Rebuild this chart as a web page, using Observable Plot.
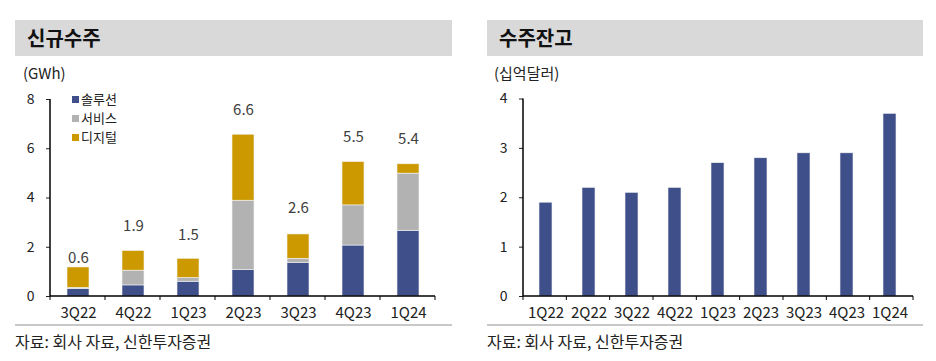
<!DOCTYPE html>
<html><head><meta charset="utf-8">
<script src="https://cdn.jsdelivr.net/npm/d3@7"></script>
<script src="https://cdn.jsdelivr.net/npm/@observablehq/plot@0.6"></script>
<style>
body{margin:0;background:#fff;font-family:"Noto Sans CJK KR","Noto Sans",sans-serif;}
#wrap{position:relative;width:936px;height:361px;overflow:hidden;background:#fff;}
.tbar{position:absolute;top:20px;height:36px;background:#d9d9d9;}
.ttl{position:absolute;top:26px;font-size:20px;font-weight:600;color:#111;line-height:24px;}
.unit{position:absolute;top:63px;font-size:15px;color:#222;line-height:20px;}
.rule{position:absolute;top:324px;height:2px;background:#c8c8c8;}
.src{position:absolute;top:331px;font-size:16px;color:#222;line-height:21px;}
.plotbox{position:absolute;top:80px;}
.legend{position:absolute;left:72px;top:89px;font-size:13px;color:#222;line-height:19px;}
.legend span.sw{display:inline-block;width:7px;height:7px;margin-right:2px;vertical-align:1px;}
</style>
</head><body>
<div id="wrap">
  <div class="tbar" style="left:15px;width:437px"></div>
  <div class="ttl" style="left:27px">신규수주</div>
  <div class="unit" style="left:23px">(GWh)</div>
  <div class="plotbox" id="leftChart" style="left:0px"></div>
  <div class="legend" id="legend"></div>
  <div class="rule" style="left:15px;width:437px"></div>
  <div class="src" style="left:15px">자료: 회사 자료, 신한투자증권</div>

  <div class="tbar" style="left:487px;width:436px"></div>
  <div class="ttl" style="left:499px">수주잔고</div>
  <div class="unit" style="left:494px">(십억달러)</div>
  <div class="plotbox" id="rightChart" style="left:466px"></div>
  <div class="rule" style="left:487px;width:436px"></div>
  <div class="src" style="left:487px">자료: 회사 자료, 신한투자증권</div>
</div>
<script>
// ---- Left chart data (신규수주, GWh) ----
const quartersL = ["3Q22","4Q22","1Q23","2Q23","3Q23","4Q23","1Q24"];
const seriesNames = ["솔루션","서비스","디지털"];
const solution = [0.30, 0.45, 0.60, 1.07, 1.37, 2.07, 2.67];
const service  = [0.05, 0.60, 0.15, 2.82, 0.16, 1.63, 2.32];
const digital  = [0.83, 0.80, 0.78, 2.68, 0.99, 1.76, 0.38];
const totalLabels = [0.6, 1.9, 1.5, 6.6, 2.6, 5.5, 5.4];
const ticksL = [0, 2, 4, 6, 8];
const seriesColors = ["#3f4f8a", "#b2b2b2", "#cc9900"];

// ---- Right chart data (수주잔고, 십억달러) ----
const quartersR = ["1Q22","2Q22","3Q22","4Q22","1Q23","2Q23","3Q23","4Q23","1Q24"];
const backlog = [1.9, 2.2, 2.1, 2.2, 2.7, 2.8, 2.9, 2.9, 3.7];
const ticksR = [0, 1, 2, 3, 4];

const FONT = '"Noto Sans CJK KR","Noto Sans",sans-serif';
const fmt1 = d3.format(".1f");

function decorate(chart, n) {
  const xs = chart.scale("x");
  const ys = chart.scale("y");
  const [x0, x1] = xs.range;
  const [yb, yt] = ys.range;
  const step = (x1 - x0) / n;
  const svg = d3.select(chart);
  const g = svg.append("g").attr("stroke", "#000");
  g.append("line").attr("x1", x0).attr("x2", x0).attr("y1", yb).attr("y2", yt).attr("stroke-width", 1.5);
  g.append("line").attr("x1", x0).attr("x2", x1).attr("y1", yb).attr("y2", yb).attr("stroke-width", 1.5);
  for (let i = 0; i <= n; i++) {
    const xx = x0 + i * step;
    g.append("line").attr("x1", xx).attr("x2", xx).attr("y1", yb).attr("y2", yb + 4).attr("stroke-width", 1);
  }
}

// Left chart
const rowsL = quartersL.flatMap((q, i) => [
  {q, s: seriesNames[0], v: solution[i]},
  {q, s: seriesNames[1], v: service[i]},
  {q, s: seriesNames[2], v: digital[i]}
]);
const labelRows = quartersL.map((q, i) => ({q, v: totalLabels[i]}));

const left = Plot.plot({
  width: 470, height: 250,
  marginLeft: 50, marginRight: 35, marginTop: 19, marginBottom: 34,
  style: {fontFamily: FONT, fontSize: "14px", color: "#222", background: "transparent", overflow: "visible"},
  x: {domain: quartersL, paddingInner: 0.6, paddingOuter: 0.3, label: null},
  y: {domain: [0, 8], label: null},
  color: {domain: seriesNames, range: seriesColors},
  marks: [
    Plot.barY(rowsL, {x: "q", y: "v", fill: "s", stroke: "#f4f4f4", strokeWidth: 0.6}),
    Plot.text(labelRows, {x: "q", y: "v", text: d => fmt1(d.v), dy: -24, fontSize: 15, fill: "#404040"}),
    Plot.axisY({ticks: ticksL, tickSize: 4, tickPadding: 12, label: null, tickFormat: d => String(d), fontSize: 14}),
    Plot.axisX({tickSize: 0, tickPadding: 11, label: null, fontSize: 15})
  ]
});
document.getElementById("leftChart").append(left);
decorate(left, quartersL.length);

// Legend (HTML)
const leg = document.getElementById("legend");
seriesNames.forEach((s, i) => {
  const div = document.createElement("div");
  div.innerHTML = `<span class="sw" style="background:${seriesColors[i]}"></span>${s}`;
  leg.append(div);
});

// Right chart
const rowsR = quartersR.map((q, i) => ({q, v: backlog[i]}));
const right = Plot.plot({
  width: 470, height: 250,
  marginLeft: 57, marginRight: 23, marginTop: 18.5, marginBottom: 34,
  style: {fontFamily: FONT, fontSize: "14px", color: "#222", background: "transparent", overflow: "visible"},
  x: {domain: quartersR, paddingInner: 0.69, paddingOuter: 0.345, label: null},
  y: {domain: [0, 4], label: null},
  marks: [
    Plot.barY(rowsR, {x: "q", y: "v", fill: seriesColors[0], stroke: "#f4f4f4", strokeWidth: 0.6}),
    Plot.axisY({ticks: ticksR, tickSize: 4, tickPadding: 12, label: null, tickFormat: d => String(d), fontSize: 14}),
    Plot.axisX({tickSize: 0, tickPadding: 11, label: null, fontSize: 15})
  ]
});
document.getElementById("rightChart").append(right);
decorate(right, quartersR.length);
</script>
</body></html>
